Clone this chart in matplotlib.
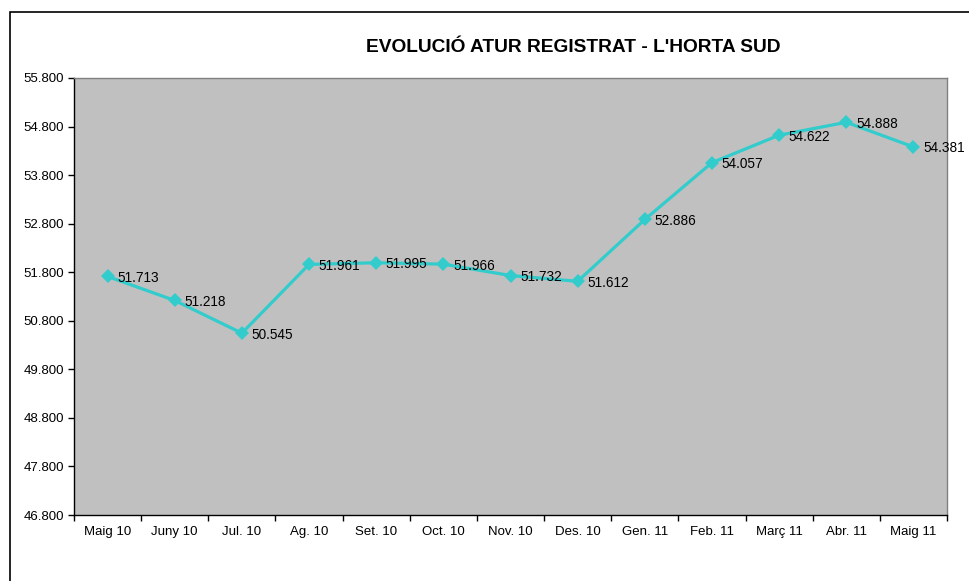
import matplotlib.pyplot as plt
import matplotlib.patches as mpatches
from matplotlib.ticker import FixedLocator, FuncFormatter

plt.rcParams['font.family'] = ['Liberation Sans', 'DejaVu Sans']

# dades
mesos = ['Maig 10', 'Juny 10', 'Jul. 10', 'Ag. 10', 'Set. 10', 'Oct. 10', 'Nov. 10',
         'Des. 10', 'Gen. 11', 'Feb. 11', 'Març 11', 'Abr. 11', 'Maig 11']
atur = [51713, 51218, 50545, 51961, 51995, 51966, 51732,
        51612, 52886, 54057, 54622, 54888, 54381]
y_ticks = [46800, 47800, 48800, 49800, 50800, 51800, 52800, 53800, 54800, 55800]


def punts(v, pos=None):
    return '{:.3f}'.format(v / 1000)


W, H = 970, 581
fig = plt.figure(figsize=(W / 100, H / 100), dpi=100)
ax = fig.add_axes([74 / W, 1 - 515 / H, (947 - 74) / W, (515 - 78) / H])
ax.set_facecolor('#c0c0c0')

# marc de la figura
fig.patches.append(mpatches.Rectangle((10 / W, -0.1), 1.2, 1 - 12 / H + 0.1,
                                      transform=fig.transFigure, fill=False,
                                      edgecolor='black', linewidth=1.2))

x = list(range(len(mesos)))
ax.plot(x, atur, color='#33cccc', linewidth=2.3, marker='D', markersize=7.5,
        markeredgewidth=0, clip_on=False)

for xi, v in zip(x, atur):
    ax.annotate(punts(v), (xi, v), xytext=(7, -1), textcoords='offset points',
                ha='left', va='center', fontsize=9.8, color='black')

ax.set_xlim(-0.5, len(mesos) - 0.5)
ax.set_ylim(46800, 55800)
ax.yaxis.set_major_locator(FixedLocator(y_ticks))
ax.yaxis.set_major_formatter(FuncFormatter(punts))

ax.set_xticks(x)
ax.set_xticklabels(mesos)
ax.xaxis.set_minor_locator(FixedLocator([i - 0.5 for i in range(len(mesos) + 1)]))
ax.tick_params(axis='x', which='major', length=0, pad=8, labelsize=9.5)
ax.tick_params(axis='x', which='minor', length=4, width=1, direction='out')
ax.tick_params(axis='y', length=4, width=1, labelsize=9.5, pad=3)

for s in ['top', 'right']:
    ax.spines[s].set_color('#808080')
    ax.spines[s].set_linewidth(1)
for s in ['left', 'bottom']:
    ax.spines[s].set_color('black')
    ax.spines[s].set_linewidth(1)

fig.text(573 / W, 1 - 47 / H, "EVOLUCIÓ ATUR REGISTRAT - L'HORTA SUD",
         ha='center', va='center', fontsize=13.8, fontweight='bold')

fig.savefig('out.png', dpi=100)
